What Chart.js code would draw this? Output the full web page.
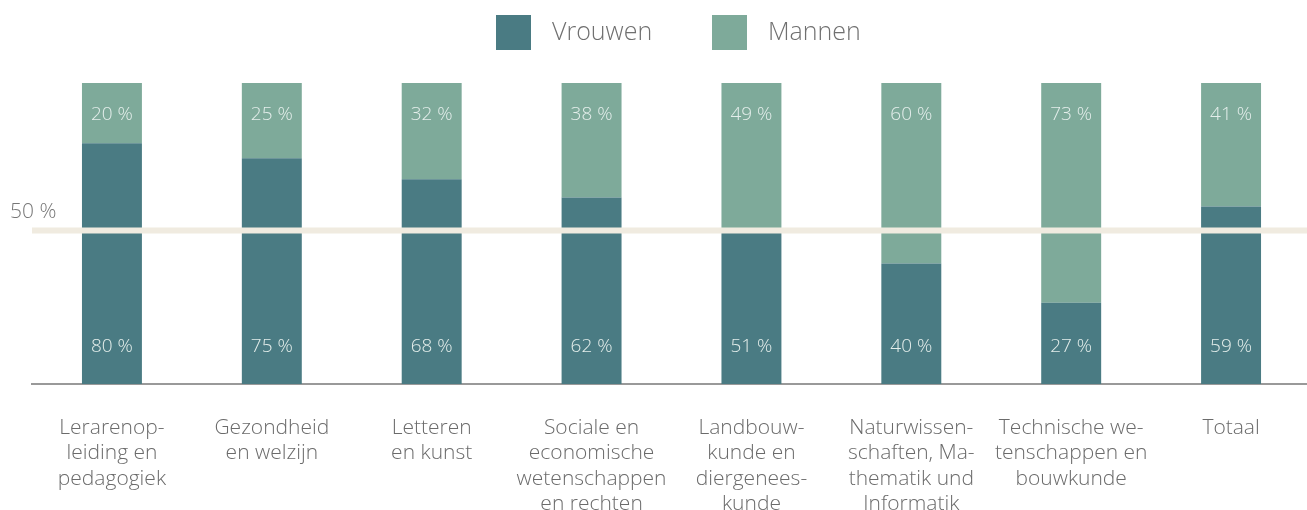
<!DOCTYPE html>
<html lang="nl">
<head>
    <meta charset="UTF-8">
    <title>Vrouwen en mannen per studiegebied</title>
    <script src="https://cdn.jsdelivr.net/npm/chart.js"></script>
    <style>
        html, body { margin: 0; padding: 0; background: #fff; overflow: hidden; }
        #wrap { width: 1311px; height: 510px; }
    </style>
</head>
<body>
<div id="wrap"><canvas id="studieChart"></canvas></div>
<script>
// categorieën (regels zoals in de figuur)
const categorieen = [
    ['Lerarenop-', 'leiding en', 'pedagogiek'],
    ['Gezondheid', 'en welzijn'],
    ['Letteren', 'en kunst'],
    ['Sociale en', 'economische', 'wetenschappen', 'en rechten'],
    ['Landbouw-', 'kunde en', 'diergenees-', 'kunde'],
    ['Naturwissen-', 'schaften, Ma-', 'thematik und', 'Informatik'],
    ['Technische we-', 'tenschappen en', 'bouwkunde'],
    ['Totaal']
];
const vrouwen = [80, 75, 68, 62, 51, 40, 27, 59];
const mannen  = [20, 25, 32, 38, 49, 60, 73, 41];
const referentieLijn = 50;

const kleurVrouwen = '#4a7b83';
const kleurMannen = '#7eaa9a';
const fontNaam = '"Open Sans", "Noto Sans", sans-serif';

// eigen tekenwerk: legenda, 50%-lijn, waarden in de balken
const extraTekenen = {
    id: 'extraTekenen',
    afterDatasetsDraw(chart) {
        const ctx = chart.ctx;
        const y = chart.scales.y;
        ctx.save();

        // 50 % lijn
        const y50 = y.getPixelForValue(referentieLijn) - 3;
        ctx.fillStyle = '#f0ebe0';
        ctx.fillRect(32, y50 - 3, chart.width - 32, 6);
        ctx.fillStyle = '#777';
        ctx.font = '300 21px ' + fontNaam;
        ctx.textAlign = 'left';
        ctx.textBaseline = 'middle';
        ctx.fillText(referentieLijn + ' %', 10, y50 - 18);

        // waarden in de balken
        ctx.font = '300 19px ' + fontNaam;
        ctx.textAlign = 'center';
        ctx.fillStyle = '#e4eeeb';
        chart.getDatasetMeta(0).data.forEach((bar, i) => {
            ctx.fillText(vrouwen[i] + ' %', bar.x, bar.base - 37);
        });
        chart.getDatasetMeta(1).data.forEach((bar, i) => {
            ctx.fillText(mannen[i] + ' %', bar.x, bar.y + 32);
        });

        // legenda
        ctx.font = '300 25px ' + fontNaam;
        ctx.textAlign = 'left';
        const items = [
            { tekst: chart.data.datasets[0].label, kleur: kleurVrouwen, x: 496 },
            { tekst: chart.data.datasets[1].label, kleur: kleurMannen, x: 712 }
        ];
        items.forEach(it => {
            ctx.fillStyle = it.kleur;
            ctx.fillRect(it.x, 15, 35, 35);
            ctx.fillStyle = '#707070';
            ctx.fillText(it.tekst, it.x + 56, 33);
        });

        ctx.restore();
    }
};

const ctx = document.getElementById('studieChart').getContext('2d');
new Chart(ctx, {
    type: 'bar',
    data: {
        labels: categorieen,
        datasets: [{
            label: 'Vrouwen',
            data: vrouwen,
            backgroundColor: kleurVrouwen
        }, {
            label: 'Mannen',
            data: mannen,
            backgroundColor: kleurMannen
        }]
    },
    options: {
        responsive: true,
        maintainAspectRatio: false,
        animation: false,
        layout: { padding: { top: 83, left: 32, right: 0, bottom: 0 } },
        datasets: { bar: { barPercentage: 0.375, categoryPercentage: 1 } },
        plugins: {
            legend: { display: false },
            tooltip: { enabled: false }
        },
        scales: {
            x: {
                stacked: true,
                grid: { display: false, drawTicks: false },
                border: { display: true, color: '#999', width: 2 },
                afterFit(scale) { scale.height = 126; },
                ticks: {
                    maxRotation: 0,
                    autoSkip: false,
                    padding: 31,
                    color: '#6b6b6b',
                    font: { family: fontNaam, size: 21, weight: 300, lineHeight: 25.5 / 21 }
                }
            },
            y: {
                stacked: true,
                display: false,
                min: 0,
                max: 100
            }
        }
    },
    plugins: [extraTekenen]
});
</script>
</body>
</html>
